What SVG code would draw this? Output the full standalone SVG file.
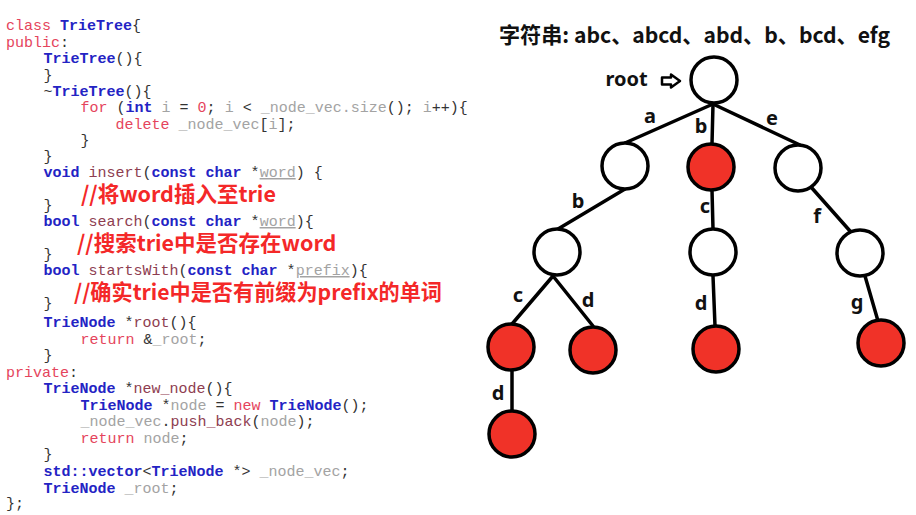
<svg xmlns="http://www.w3.org/2000/svg" width="916" height="515" viewBox="0 0 916 515">
<style>
.code{font-family:"Liberation Mono","Courier New",monospace;font-size:15px;fill:#333}
.kw{fill:#e5445c}
.ty{fill:#2323c4;font-weight:bold}
.id{fill:#a3a3a3}
.fn{fill:#8e3d50}
.ul{text-decoration:underline}
.cm{font-family:"Noto Sans CJK SC","Noto Sans",sans-serif;font-weight:bold;font-size:21.5px;fill:#f42828}
.title{font-family:"Noto Sans CJK SC","Noto Sans",sans-serif;font-weight:bold;font-size:21.5px;fill:#111}
.lbl{font-family:"Noto Sans","Noto Sans CJK SC",sans-serif;font-weight:bold;font-size:20px;fill:#111;text-anchor:middle}
.edge{stroke:#000;stroke-width:3.5;stroke-linecap:round;fill:none}
.nd{stroke:#000;stroke-width:3.5}
.w{fill:#fff}
.r{fill:#f03228}
</style>
<rect width="916" height="515" fill="#fff"/>
<g id="code" class="code" xml:space="preserve">
<text x="6" y="30"><tspan class="kw">class</tspan> <tspan class="ty">TrieTree</tspan>{</text>
<text x="6" y="46.5"><tspan class="kw">public</tspan>:</text>
<text x="43.5" y="63"><tspan class="ty">TrieTree</tspan>(){</text>
<text x="43.5" y="79.5">}</text>
<text x="43.5" y="96">~<tspan class="ty">TrieTree</tspan>(){</text>
<text x="80.5" y="112"><tspan class="kw">for</tspan> (<tspan class="ty">int</tspan> <tspan class="id">i</tspan> = <tspan class="kw">0</tspan>; <tspan class="id">i</tspan> &lt; <tspan class="id">_node_vec.size</tspan>(); <tspan class="id">i</tspan>++){</text>
<text x="115.5" y="128.5"><tspan class="kw">delete</tspan> <tspan class="id">_node_vec</tspan>[<tspan class="id">i</tspan>];</text>
<text x="80.5" y="145">}</text>
<text x="43.5" y="161">}</text>
<text x="43.5" y="177"><tspan class="ty">void</tspan> <tspan class="fn">insert</tspan>(<tspan class="ty">const</tspan> <tspan class="ty">char</tspan> *<tspan class="id ul">word</tspan>) {</text>
<text x="43.5" y="210">}</text>
<text x="43.5" y="226"><tspan class="ty">bool</tspan> <tspan class="fn">search</tspan>(<tspan class="ty">const</tspan> <tspan class="ty">char</tspan> *<tspan class="id ul">word</tspan>){</text>
<text x="43.5" y="259">}</text>
<text x="43.5" y="275"><tspan class="ty">bool</tspan> <tspan class="fn">startsWith</tspan>(<tspan class="ty">const</tspan> <tspan class="ty">char</tspan> *<tspan class="id ul">prefix</tspan>){</text>
<text x="43.5" y="308">}</text>
<text x="43.5" y="327"><tspan class="ty">TrieNode</tspan> *<tspan class="fn">root</tspan>(){</text>
<text x="80.5" y="343.5"><tspan class="kw">return</tspan> &amp;<tspan class="id">_root</tspan>;</text>
<text x="43.5" y="360">}</text>
<text x="6" y="376.5"><tspan class="kw">private</tspan>:</text>
<text x="43.5" y="393"><tspan class="ty">TrieNode</tspan> *<tspan class="fn">new_node</tspan>(){</text>
<text x="80.5" y="409.5"><tspan class="ty">TrieNode</tspan> *<tspan class="id">node</tspan> = <tspan class="kw">new</tspan> <tspan class="ty">TrieNode</tspan>();</text>
<text x="80.5" y="426"><tspan class="id">_node_vec</tspan>.<tspan class="fn">push_back</tspan>(<tspan class="id">node</tspan>);</text>
<text x="80.5" y="442.5"><tspan class="kw">return</tspan> <tspan class="id">node</tspan>;</text>
<text x="43.5" y="459">}</text>
<text x="43.5" y="476"><tspan class="ty">std::vector</tspan>&lt;<tspan class="ty">TrieNode</tspan> *&gt; <tspan class="id">_node_vec</tspan>;</text>
<text x="43.5" y="492.5"><tspan class="ty">TrieNode</tspan> <tspan class="id">_root</tspan>;</text>
<text x="6" y="508">};</text>
</g>
<g id="comments" class="cm">
<text x="81" y="202">//将word插入至trie</text>
<text x="77" y="251">//搜索trie中是否存在word</text>
<text x="74" y="300" textLength="368" lengthAdjust="spacingAndGlyphs">//确实trie中是否有前缀为prefix的单词</text>
</g>
<text id="title" class="title" x="499" y="43" textLength="391" lengthAdjust="spacingAndGlyphs">字符串: abc、abcd、abd、b、bcd、efg</text>
<g id="root-pointer">
<text class="lbl" x="626.5" y="86" font-size="21">root</text>
<polygon points="662,77.5 671,77.5 671,74.5 680,81 671,87.5 671,84.5 662,84.5" fill="#fff" stroke="#000" stroke-width="2.5" stroke-linejoin="round"/>
</g>
<g id="connectors" class="edge">
<line x1="713" y1="104" x2="625" y2="143"/>
<line x1="713" y1="104" x2="712" y2="144"/>
<line x1="713" y1="104" x2="800" y2="145"/>
<line x1="625" y1="189" x2="558" y2="229"/>
<line x1="712" y1="190" x2="713" y2="229"/>
<line x1="811" y1="187" x2="850" y2="231"/>
<line x1="553" y1="276" x2="512" y2="324"/>
<line x1="553" y1="276" x2="593" y2="326"/>
<line x1="713" y1="276" x2="715" y2="326"/>
<line x1="865" y1="276" x2="878" y2="321"/>
<line x1="512" y1="370" x2="512" y2="411"/>
</g>
<g id="edge-labels" class="lbl">
<text x="650" y="122.5">a</text>
<text x="701" y="133">b</text>
<text x="772" y="125">e</text>
<text x="578" y="208">b</text>
<text x="705" y="213">c</text>
<text x="817" y="223">f</text>
<text x="518" y="301.5">c</text>
<text x="588" y="306.5">d</text>
<text x="701" y="310">d</text>
<text x="857" y="309">g</text>
<text x="498" y="400">d</text>
</g>
<g id="node-root"><circle class="nd w" cx="714" cy="80" r="23"/></g>
<g id="node-a"><circle class="nd w" cx="625" cy="166" r="23"/></g>
<g id="node-b"><circle class="nd r" cx="711" cy="167" r="23"/></g>
<g id="node-e"><circle class="nd w" cx="798" cy="168" r="23"/></g>
<g id="node-ab"><circle class="nd w" cx="557" cy="252" r="23"/></g>
<g id="node-bc"><circle class="nd w" cx="713" cy="252" r="23"/></g>
<g id="node-ef"><circle class="nd w" cx="860" cy="253" r="23"/></g>
<g id="node-abc"><circle class="nd r" cx="511" cy="347" r="23"/></g>
<g id="node-abd"><circle class="nd r" cx="593" cy="350" r="23"/></g>
<g id="node-bcd"><circle class="nd r" cx="716" cy="349" r="23"/></g>
<g id="node-efg"><circle class="nd r" cx="881" cy="343" r="23"/></g>
<g id="node-abcd"><circle class="nd r" cx="512" cy="434" r="23"/></g>
</svg>
